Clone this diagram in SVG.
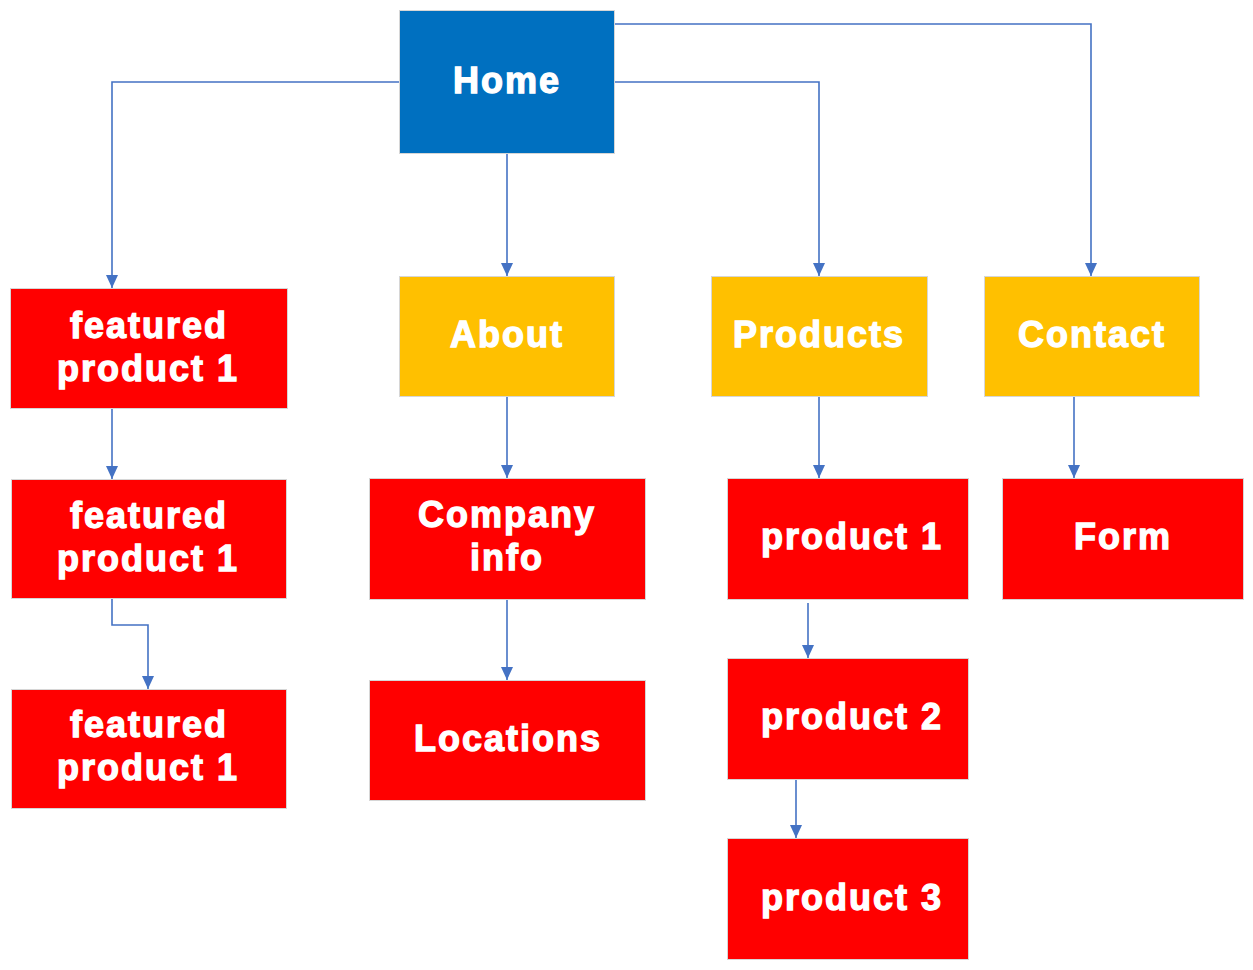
<svg xmlns="http://www.w3.org/2000/svg" width="1253" height="970" viewBox="0 0 1253 970">
<defs>
<style>
.box{stroke:#d6d6d6;stroke-width:1}
.blue{fill:#0070C0}
.gold{fill:#FFC000}
.red{fill:#FF0000}
.lbl{font-family:"Liberation Sans",Arial,sans-serif;font-weight:bold;font-size:36px;fill:#fff;stroke:#fff;stroke-width:1.3;letter-spacing:2px;text-anchor:middle}
.st{text-anchor:start}
.con{fill:none;stroke:#4472C4;stroke-width:1.6}
</style>
<marker id="ad" markerUnits="userSpaceOnUse" markerWidth="14" markerHeight="14" refX="7" refY="13" orient="0" viewBox="0 0 14 14">
<path d="M1,0 L13,0 L7,13 Z" fill="#4472C4"/>
</marker>
</defs>
<rect width="1253" height="970" fill="#fff"/>
<g id="connectors">
<path class="con" d="M399,82 H112 V288" marker-end="url(#ad)"/>
<path class="con" d="M507,153 V276" marker-end="url(#ad)"/>
<path class="con" d="M614,82 H819 V276" marker-end="url(#ad)"/>
<path class="con" d="M614,24 H1091 V276" marker-end="url(#ad)"/>
<path class="con" d="M507,396 V478" marker-end="url(#ad)"/>
<path class="con" d="M819,396 V478" marker-end="url(#ad)"/>
<path class="con" d="M1074,396 V478" marker-end="url(#ad)"/>
<path class="con" d="M112,408 V479" marker-end="url(#ad)"/>
<path class="con" d="M112,598 V625 H148 V689" marker-end="url(#ad)"/>
<path class="con" d="M507,599 V680" marker-end="url(#ad)"/>
<path class="con" d="M808,603 V658" marker-end="url(#ad)"/>
<path class="con" d="M796,779 V838" marker-end="url(#ad)"/>
</g>
<g id="home"><rect class="box blue" x="399.5" y="10.5" width="215" height="143"/><text class="lbl" x="507" y="93">Home</text></g>
<g id="about"><rect class="box gold" x="399.5" y="276.5" width="215" height="120"/><text class="lbl" x="507" y="347">About</text></g>
<g id="products"><rect class="box gold" x="711.5" y="276.5" width="216" height="120"/><text class="lbl" x="819" y="347">Products</text></g>
<g id="contact"><rect class="box gold" x="984.5" y="276.5" width="215" height="120"/><text class="lbl" x="1092" y="347">Contact</text></g>
<g id="featured1"><rect class="box red" x="10.5" y="288.5" width="277" height="120"/><text class="lbl" x="149" y="338">featured</text><text class="lbl" x="148" y="381">product 1</text></g>
<g id="featured2"><rect class="box red" x="11.5" y="479.5" width="275" height="119"/><text class="lbl" x="149" y="528">featured</text><text class="lbl" x="148" y="571">product 1</text></g>
<g id="featured3"><rect class="box red" x="11.5" y="689.5" width="275" height="119"/><text class="lbl" x="149" y="737">featured</text><text class="lbl" x="148" y="780">product 1</text></g>
<g id="company"><rect class="box red" x="369.5" y="478.5" width="276" height="121"/><text class="lbl" x="507" y="527">Company</text><text class="lbl" x="507" y="570">info</text></g>
<g id="locations"><rect class="box red" x="369.5" y="680.5" width="276" height="120"/><text class="lbl" x="508" y="751">Locations</text></g>
<g id="product1"><rect class="box red" x="727.5" y="478.5" width="241" height="121"/><text class="lbl st" x="761" y="549">product 1</text></g>
<g id="product2"><rect class="box red" x="727.5" y="658.5" width="241" height="121"/><text class="lbl st" x="761" y="729">product 2</text></g>
<g id="product3"><rect class="box red" x="727.5" y="838.5" width="241" height="121"/><text class="lbl st" x="761" y="910">product 3</text></g>
<g id="form"><rect class="box red" x="1002.5" y="478.5" width="241" height="121"/><text class="lbl" x="1123" y="549">Form</text></g>
</svg>
